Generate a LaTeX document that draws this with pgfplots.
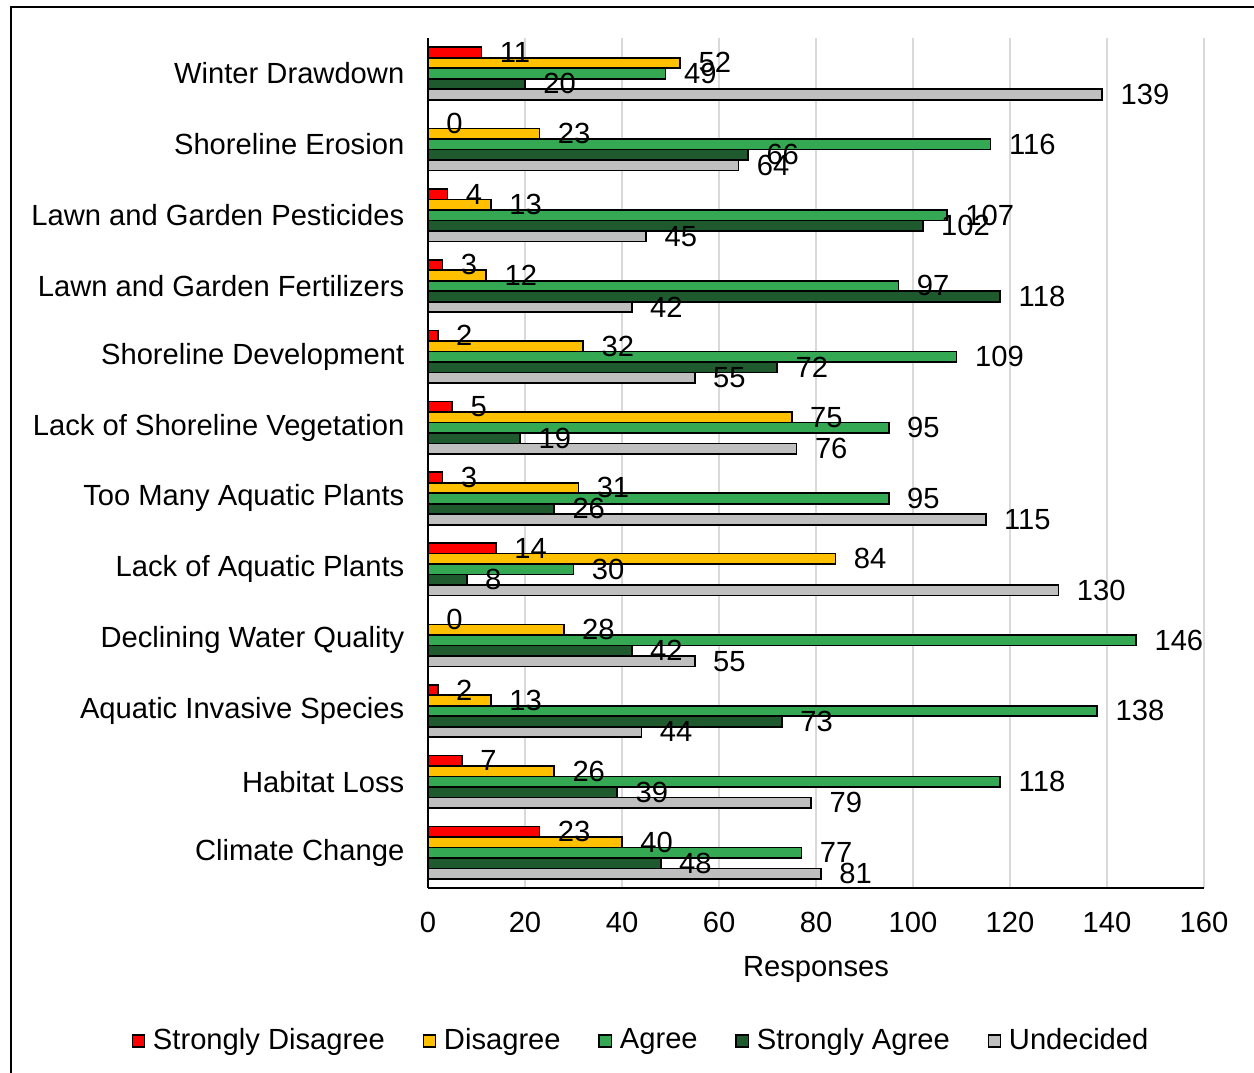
\documentclass[border=0pt]{standalone}
\usepackage{fontspec}
\setmainfont{Liberation Sans}
\usepackage{pgfplots}
\pgfplotsset{compat=1.18}
\definecolor{sdis}{HTML}{FF0000}
\definecolor{dis}{HTML}{FFC000}
\definecolor{agr}{HTML}{35A853}
\definecolor{sagr}{HTML}{1F5A2E}
\definecolor{und}{HTML}{BFBFBF}
\definecolor{gridc}{HTML}{D9D9D9}

\begin{document}
\begin{tikzpicture}
% 1 px of the reference = 0.36pt, origin at the top left corner
\useasboundingbox (0pt,0pt) rectangle (451.44pt,-385.92pt);
\draw[line width=0.75pt] (3.96pt,-400pt) -- (3.96pt,-2.52pt) -- (470pt,-2.52pt);
\begin{axis}[
  at={(154.08pt,-319.68pt)}, anchor=south west,
  scale only axis,
  width=279.36pt, height=306pt,
  xbar=0pt,
  bar width=3.78pt,
  y dir=reverse,
  xmin=0, xmax=160,
  xtick={0,20,...,160},
  ymin=-0.5, ymax=11.5,
  ytick={0,...,11},
  yticklabels={Winter Drawdown,Shoreline Erosion,Lawn and Garden Pesticides,Lawn and Garden Fertilizers,Shoreline Development,Lack of Shoreline Vegetation,Too Many Aquatic Plants,Lack of Aquatic Plants,Declining Water Quality,Aquatic Invasive Species,Habitat Loss,Climate Change},
  axis x line*=bottom, axis y line*=left,
  axis line style={-, line width=0.75pt, black},
  major tick length=0pt,
  xmajorgrids=true,
  grid style={draw=gridc, line width=0.75pt},
  font=\fontsize{10.5}{12}\selectfont,
  /pgf/number format/assume math mode=true,
  ticklabel style={font=\fontsize{10.5}{12}\selectfont},
  xticklabel style={yshift=-5.3pt},
  yticklabel style={xshift=-5pt},
  xlabel={Responses},
  xlabel style={at={(0.5,-0.096)}, anchor=center, font=\fontsize{10.5}{12}\selectfont},
  point meta=x,
  nodes near coords,
  nodes near coords style={anchor=west, xshift=3pt, font=\fontsize{10.5}{12}\selectfont, black},
  every axis plot/.append style={draw=black, line width=0.6pt},
  reverse legend,
  legend style={at={(0.275,-0.18)}, anchor=center, draw=none, legend columns=5,
    font=\fontsize{10.5}{12}\selectfont,
    /tikz/every even column/.append style={column sep=12.6pt},
    nodes={inner sep=1pt}},
  legend image code/.code={\draw[#1, line width=0.6pt] (0pt,-2.2pt) rectangle (4.4pt,2.2pt);
    \path[draw=none, fill=none] (0pt,0pt) -- (6.4pt,0pt);},
]
% plotted bottom-up within each group, so Undecided comes first
\addplot[fill=und] coordinates {(139,0) (64,1) (45,2) (42,3) (55,4) (76,5) (115,6) (130,7) (55,8) (44,9) (79,10) (81,11)};
\addplot[fill=sagr] coordinates {(20,0) (66,1) (102,2) (118,3) (72,4) (19,5) (26,6) (8,7) (42,8) (73,9) (39,10) (48,11)};
\addplot[fill=agr] coordinates {(49,0) (116,1) (107,2) (97,3) (109,4) (95,5) (95,6) (30,7) (146,8) (138,9) (118,10) (77,11)};
\addplot[fill=dis] coordinates {(52,0) (23,1) (13,2) (12,3) (32,4) (75,5) (31,6) (84,7) (28,8) (13,9) (26,10) (40,11)};
\addplot[fill=sdis] coordinates {(11,0) (0,1) (4,2) (3,3) (2,4) (5,5) (3,6) (14,7) (0,8) (2,9) (7,10) (23,11)};
\legend{Undecided,Strongly Agree,Agree,Disagree,Strongly Disagree}
\end{axis}
\end{tikzpicture}
\end{document}
